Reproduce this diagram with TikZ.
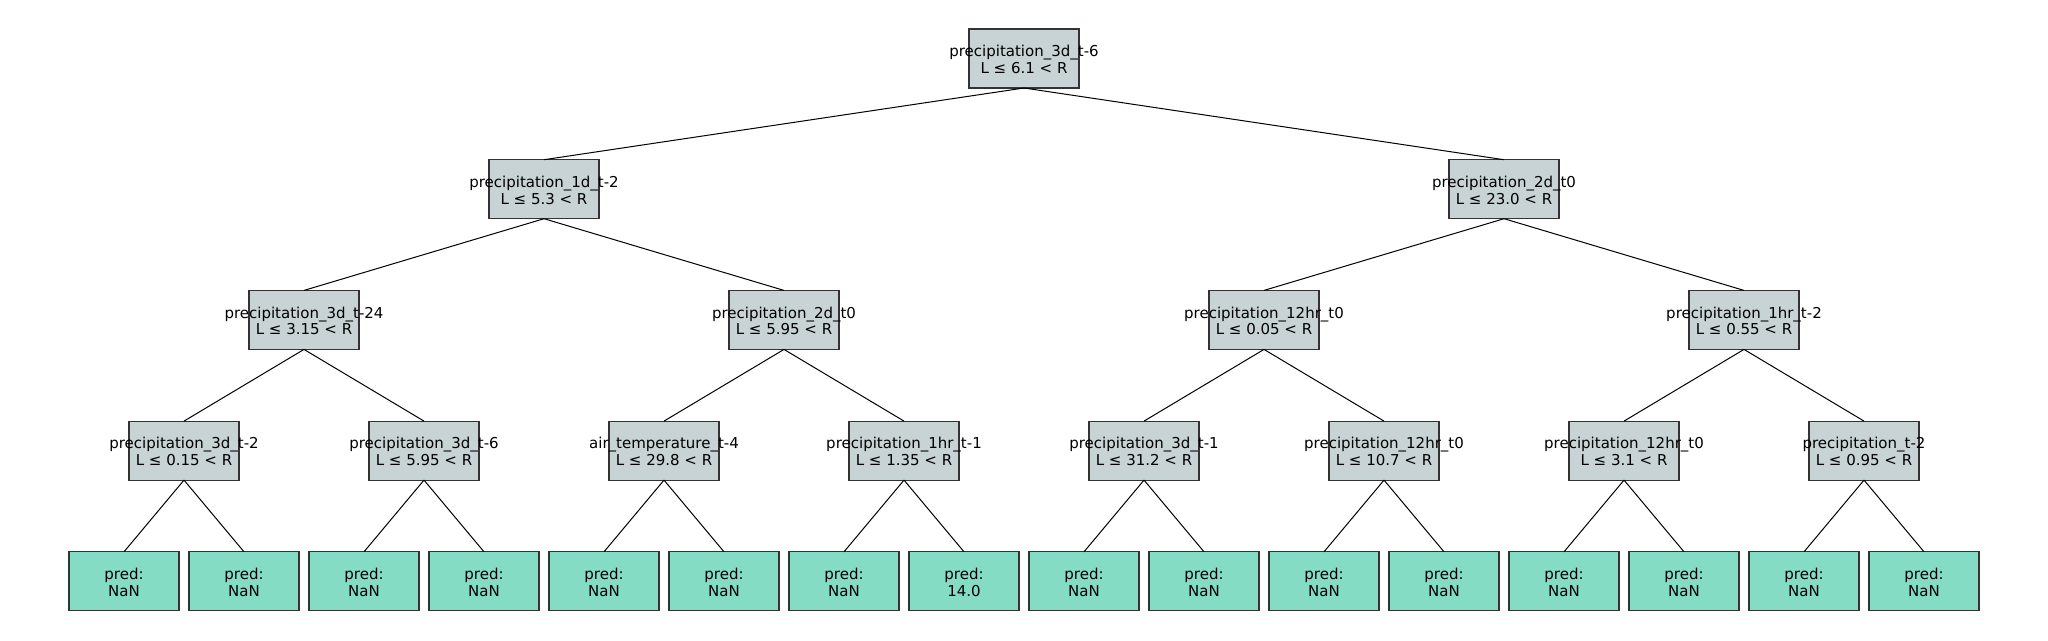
\documentclass[tikz,border=0pt]{standalone}
\usepackage{fontspec}
\setmainfont{DejaVu Sans}
\definecolor{decfill}{HTML}{C7D3D4}
\definecolor{leaffill}{HTML}{85DCC5}
\definecolor{boxline}{HTML}{333333}
\begin{document}
\begin{tikzpicture}[x=1pt,y=-1pt,
  dbox/.style={draw=boxline,line width=1.2pt,fill=decfill,minimum width=110pt,minimum height=59pt,inner sep=0pt,outer sep=0pt},
  lbox/.style={draw=boxline,line width=1.2pt,fill=leaffill,minimum width=110pt,minimum height=59pt,inner sep=0pt,outer sep=0pt},
  txt/.style={align=center,inner sep=0pt,yshift=-1pt,font=\fontsize{15}{16.8}\selectfont},
  edge/.style={draw=black,line width=1pt}]
\useasboundingbox (0,0) rectangle (2048,640);
% decision boxes
\node[dbox] (r) at (1024,58.5) {};
\node[dbox] (a) at (544,189.2) {};
\node[dbox] (b) at (1504,189.2) {};
\node[dbox] (aa) at (304,319.9) {};
\node[dbox] (ab) at (784,319.9) {};
\node[dbox] (ba) at (1264,319.9) {};
\node[dbox] (bb) at (1744,319.9) {};
\node[dbox] (c0) at (184,450.6) {};
\node[dbox] (c1) at (424,450.6) {};
\node[dbox] (c2) at (664,450.6) {};
\node[dbox] (c3) at (904,450.6) {};
\node[dbox] (c4) at (1144,450.6) {};
\node[dbox] (c5) at (1384,450.6) {};
\node[dbox] (c6) at (1624,450.6) {};
\node[dbox] (c7) at (1864,450.6) {};
% leaves
\foreach \i in {0,...,15}{
  \node[lbox] (l\i) at ({124+120*\i},581.3) {};
}
% edges
\draw[edge] (r.south) -- (a.north);
\draw[edge] (r.south) -- (b.north);
\draw[edge] (a.south) -- (aa.north);
\draw[edge] (a.south) -- (ab.north);
\draw[edge] (b.south) -- (ba.north);
\draw[edge] (b.south) -- (bb.north);
\draw[edge] (aa.south) -- (c0.north);
\draw[edge] (aa.south) -- (c1.north);
\draw[edge] (ab.south) -- (c2.north);
\draw[edge] (ab.south) -- (c3.north);
\draw[edge] (ba.south) -- (c4.north);
\draw[edge] (ba.south) -- (c5.north);
\draw[edge] (bb.south) -- (c6.north);
\draw[edge] (bb.south) -- (c7.north);
\foreach \p [evaluate=\p as \lft using int(2*\p), evaluate=\p as \rgt using int(2*\p+1)] in {0,...,7}{
  \draw[edge] (c\p.south) -- (l\lft.north);
  \draw[edge] (c\p.south) -- (l\rgt.north);
}
% texts
\node[txt] (tr) at (r) {precipitation\_3d\_t-6\\L ≤ 6.1 < R};
\node[txt] (ta) at (a) {precipitation\_1d\_t-2\\L ≤ 5.3 < R};
\node[txt] (tb) at (b) {precipitation\_2d\_t0\\L ≤ 23.0 < R};
\node[txt] (taa) at (aa) {precipitation\_3d\_t-24\\L ≤ 3.15 < R};
\node[txt] (tab) at (ab) {precipitation\_2d\_t0\\L ≤ 5.95 < R};
\node[txt] (tba) at (ba) {precipitation\_12hr\_t0\\L ≤ 0.05 < R};
\node[txt] (tbb) at (bb) {precipitation\_1hr\_t-2\\L ≤ 0.55 < R};
\node[txt] (tc0) at (c0) {precipitation\_3d\_t-2\\L ≤ 0.15 < R};
\node[txt] (tc1) at (c1) {precipitation\_3d\_t-6\\L ≤ 5.95 < R};
\node[txt] (tc2) at (c2) {air\_temperature\_t-4\\L ≤ 29.8 < R};
\node[txt] (tc3) at (c3) {precipitation\_1hr\_t-1\\L ≤ 1.35 < R};
\node[txt] (tc4) at (c4) {precipitation\_3d\_t-1\\L ≤ 31.2 < R};
\node[txt] (tc5) at (c5) {precipitation\_12hr\_t0\\L ≤ 10.7 < R};
\node[txt] (tc6) at (c6) {precipitation\_12hr\_t0\\L ≤ 3.1 < R};
\node[txt] (tc7) at (c7) {precipitation\_t-2\\L ≤ 0.95 < R};
\foreach \i in {0,...,15}{
  \ifnum\i=7
    \node[txt] (tl\i) at (l\i) {pred:\\14.0};
  \else
    \node[txt] (tl\i) at (l\i) {pred:\\NaN};
  \fi
}
\end{tikzpicture}
\end{document}
